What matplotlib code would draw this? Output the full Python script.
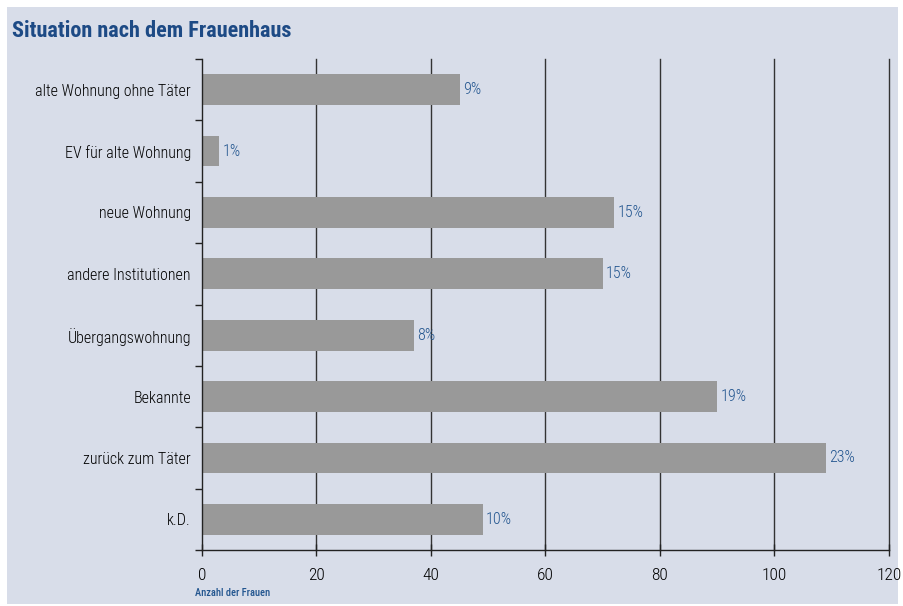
import matplotlib
matplotlib.use("Agg")
import matplotlib.pyplot as plt
from matplotlib.patches import Rectangle

plt.rcParams['font.family'] = ['Roboto Condensed', 'DejaVu Sans']

categories = ['alte Wohnung ohne Täter', 'EV für alte Wohnung', 'neue Wohnung',
              'andere Institutionen', 'Übergangswohnung', 'Bekannte',
              'zurück zum Täter', 'k.D.']
anzahl = [45, 3, 72, 70, 37, 90, 109, 49]
prozent = ['9%', '1%', '15%', '15%', '8%', '19%', '23%', '10%']
xticks = [0, 20, 40, 60, 80, 100, 120]

bg = '#d8dde9'
blau = '#22558f'
titelblau = '#1d4a85'

fig = plt.figure(figsize=(9.04, 6.06), dpi=100)
fig.patch.set_facecolor('white')
# hellblauer Kasten hinter dem Diagramm
fig.patches.append(Rectangle((7 / 904, 2 / 606), 891 / 904, 597 / 606,
                             transform=fig.transFigure, facecolor=bg,
                             edgecolor='none', zorder=-10))

ax = fig.add_axes([202 / 904, 1 - 550 / 606, 687 / 904, 491 / 606])
ax.patch.set_alpha(0)

y = list(range(len(categories)))
ax.barh(y, anzahl, height=0.5, color='#999999', zorder=2)
for yi, v, p in zip(y, anzahl, prozent):
    ax.text(v + 0.6, yi, p, va='center', ha='left', color=blau,
            fontsize=11.5, fontweight=300)

ax.set_ylim(len(categories) - 0.5, -0.5)
ax.set_xlim(0, 120)
ax.set_xticks(xticks)
ax.set_xticklabels([str(t) for t in xticks], fontsize=12.5, fontweight=300)
ax.set_yticks(y)
ax.set_yticklabels(categories, fontsize=11.5, fontweight=300)
ax.set_yticks([i - 0.5 for i in range(len(categories) + 1)], minor=True)
ax.tick_params(axis='y', which='major', length=0, pad=8)
ax.tick_params(axis='y', which='minor', length=5, width=1, color='#222222')
ax.tick_params(axis='x', direction='inout', length=8, width=1, color='#222222', pad=9)

for t in xticks[1:]:
    ax.axvline(t, color='#333333', lw=1, zorder=1, clip_on=False)

for s in ['top', 'right']:
    ax.spines[s].set_visible(False)
for s in ['left', 'bottom']:
    ax.spines[s].set_color('#222222')
    ax.spines[s].set_linewidth(1)

fig.text(12 / 904, 1 - 31 / 606, 'Situation nach dem Frauenhaus', fontsize=16,
         fontweight='bold', color=titelblau, va='center', ha='left')
fig.text(195 / 904, 1 - 593 / 606, 'Anzahl der Frauen', fontsize=7.5,
         fontweight=500, color=blau, va='center', ha='left')

fig.savefig('out.png', dpi=100, facecolor=fig.get_facecolor())
